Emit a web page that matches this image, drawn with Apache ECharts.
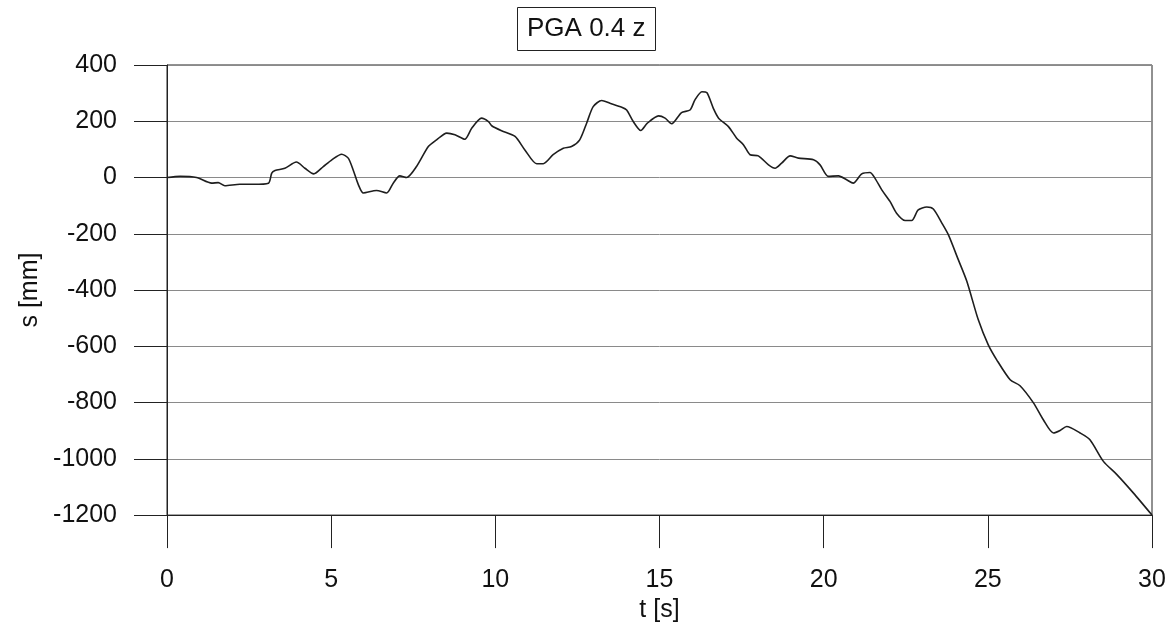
<!DOCTYPE html>
<html>
<head>
<meta charset="utf-8">
<script src="https://cdn.jsdelivr.net/npm/echarts@6/dist/echarts.min.js"></script>
<style>
  html, body { margin: 0; padding: 0; background: #fff; }
  #chart { width: 1172px; height: 628px; }
</style>
</head>
<body>
<div id="chart"></div>
<script>
// Time samples [s]
const time = [
  0, 0.4, 0.9, 1.36, 1.56, 1.76, 2.22, 2.63, 3.09, 3.19,
  3.29, 3.59, 3.94, 4.2, 4.47, 4.76, 5.02, 5.32, 5.52, 5.67,
  5.83, 5.98, 6.38, 6.69, 6.89, 7.09, 7.3, 7.6, 7.96, 8.21,
  8.52, 8.77, 9.07, 9.28, 9.58, 9.79, 9.89, 10.19, 10.6, 10.9,
  11.26, 11.46, 11.76, 12.07, 12.32, 12.57, 12.78, 12.98, 13.24, 13.49,
  13.85, 14.0, 14.2, 14.43, 14.63, 14.97, 15.17, 15.37, 15.67, 15.93,
  16.08, 16.29, 16.44, 16.64, 16.8, 17.1, 17.35, 17.56, 17.76, 18.01,
  18.32, 18.52, 18.72, 18.98, 19.23, 19.69, 19.89, 20.14, 20.45, 20.7,
  20.9, 21.16, 21.41, 21.56, 21.77, 22.02, 22.22, 22.48, 22.68, 22.88,
  23.14, 23.34, 23.6, 23.8, 24.1, 24.36, 24.71, 25.01, 25.27, 25.68,
  25.98, 26.39, 26.69, 27.0, 27.2, 27.4, 27.81, 28.11, 28.52, 28.93,
  29.43, 30.0
];

// Displacement s [mm]
const displacement = [
  0, 4, 0, -20, -18, -29, -24, -24, -20, 16,
  25, 33, 55, 33, 13, 39, 63, 83, 69, 27,
  -26, -55, -46, -55, -20, 6, 0, 39, 110, 134,
  158, 152, 136, 175, 211, 199, 184, 166, 146, 98,
  49, 49, 81, 104, 110, 134, 193, 252, 274, 264,
  250, 240, 199, 167, 193, 219, 211, 191, 231, 240,
  276, 305, 302, 246, 211, 181, 140, 116, 81, 77,
  45, 33, 51, 77, 69, 63, 45, 4, 6, -8,
  -20, 13, 18, -2, -44, -85, -127, -153, -153, -115,
  -105, -112, -162, -204, -292, -369, -506, -594, -648, -719,
  -740, -801, -861, -908, -899, -885, -908, -932, -1009, -1056,
  -1121, -1200
];

const titleText = 'PGA 0.4 z';
const xName = 't [s]';
const yName = 's [mm]';

const points = time.map((t, i) => [t, displacement[i]]);
const font = 'Liberation Sans, Arial, sans-serif';

const chart = echarts.init(document.getElementById('chart'), null, { renderer: 'canvas' });
chart.setOption({
  animation: false,
  backgroundColor: '#fff',
  title: {
    text: titleText,
    left: 517,
    top: 7,
    padding: [9, 10],
    borderWidth: 1,
    borderColor: '#222',
    textStyle: { fontFamily: font, fontSize: 26, fontWeight: 'normal', color: '#111' }
  },
  grid: {
    left: 167, right: 20, top: 65, bottom: 111,
    show: true, borderColor: '#222', borderWidth: 1, backgroundColor: 'transparent'
  },
  xAxis: {
    type: 'value',
    min: 0, max: 30, interval: 5,
    name: xName,
    nameLocation: 'middle',
    nameGap: 81,
    nameTextStyle: { fontFamily: font, fontSize: 25, color: '#111' },
    axisLine: { onZero: false, lineStyle: { color: '#222', width: 1 } },
    axisTick: { show: true, inside: false, length: 33, lineStyle: { color: '#222', width: 1 } },
    axisLabel: { margin: 53, fontFamily: font, fontSize: 25, color: '#111', formatter: v => String(v) },
    splitLine: { show: false }
  },
  yAxis: {
    type: 'value',
    min: -1200, max: 400, interval: 200,
    name: yName,
    nameLocation: 'middle',
    nameGap: 94,
    nameTextStyle: { fontFamily: font, fontSize: 25, color: '#111' },
    axisLine: { onZero: false, lineStyle: { color: '#222', width: 1 } },
    axisTick: { show: true, inside: false, length: 33, lineStyle: { color: '#222', width: 1 } },
    axisLabel: { margin: 50, fontFamily: font, fontSize: 25, color: '#111', formatter: v => String(v) },
    splitLine: { show: true, lineStyle: { color: '#8a8a8a', width: 1 } }
  },
  series: [{
    type: 'line',
    data: points,
    showSymbol: false,
    smooth: 0.25,
    lineStyle: { color: '#1e1e1e', width: 1.6 }
  }]
});
</script>
</body>
</html>
